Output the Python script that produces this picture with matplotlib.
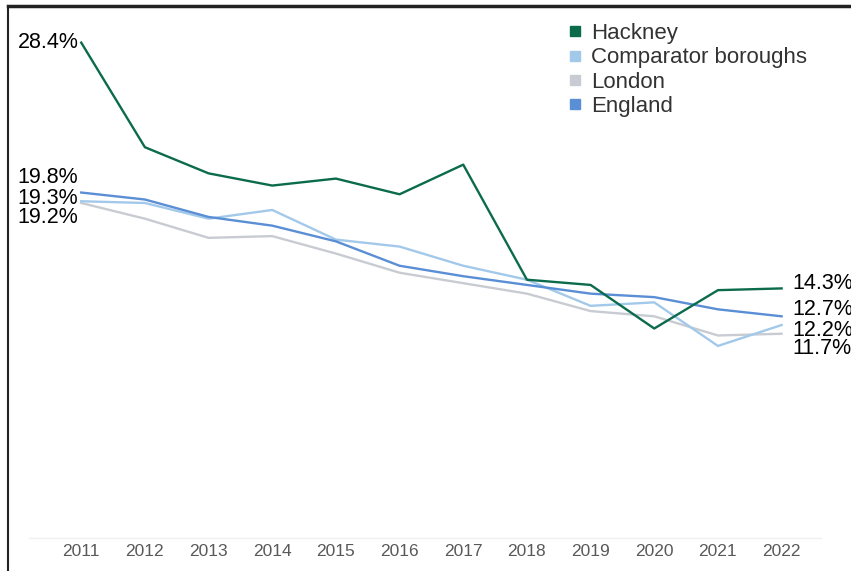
import matplotlib
matplotlib.use("Agg")
import matplotlib.pyplot as plt
from matplotlib.lines import Line2D

plt.rcParams.update({
    "font.family": ["Liberation Sans", "DejaVu Sans"],
    "font.size": 14,
})

years = [2011, 2012, 2013, 2014, 2015, 2016, 2017, 2018, 2019, 2020, 2021, 2022]
hackney = [28.4, 22.4, 20.9, 20.2, 20.6, 19.7, 21.4, 14.8, 14.5, 12.0, 14.2, 14.3]
comparator = [19.3, 19.2, 18.3, 18.8, 17.1, 16.7, 15.6, 14.8, 13.3, 13.5, 11.0, 12.2]
london = [19.2, 18.3, 17.2, 17.3, 16.3, 15.2, 14.6, 14.0, 13.0, 12.7, 11.6, 11.7]
england = [19.8, 19.4, 18.4, 17.9, 17.0, 15.6, 15.0, 14.5, 14.0, 13.8, 13.1, 12.7]

names = ["Hackney", "Comparator boroughs", "London", "England"]
series = [hackney, comparator, london, england]
colors = ["#0B6B4C", "#A3C9EA", "#C8CCD2", "#5A8ED5"]
z = [5, 3, 2, 4]

# label nudges in pixels, screen-down positive, so end labels don't collide
start_off = [0, -3, 15, -15]
end_off = [-5, 5, 15, -7]

fig = plt.figure(figsize=(8.51, 5.71), dpi=100)
# axes run to the bottom edge so the left rule reaches it; y=0 sits at ~537px
ax = fig.add_axes([8 / 851, 0, 843 / 851, (571 - 6) / 571])

for vals, c, zz in zip(series, colors, z):
    ax.plot(years, vals, color=c, lw=1.7, zorder=zz)

for vals, so, eo in zip(series, start_off, end_off):
    ax.annotate(f"{vals[0]:.1f}%", (years[0], vals[0]),
                xytext=(-2, -so * 0.72), textcoords="offset points",
                ha="right", va="center", fontsize=15.5, color="black")
    ax.annotate(f"{vals[-1]:.1f}%", (years[-1], vals[-1]),
                xytext=(8, -eo * 0.72), textcoords="offset points",
                ha="left", va="center", fontsize=15.5, color="black")

ax.set_xlim(2009.85, 2023.09)
ax.set_ylim(-1.91, 30.5)
ax.axhline(0, xmin=0.025, xmax=0.965, color="#F0F0F0", lw=1, zorder=1)

for y in years:
    ax.annotate(str(y), (y, 0), xytext=(0, -10), textcoords="offset points",
                ha="center", va="center", fontsize=12.5, color="#595959")

ax.set_xticks([])
ax.set_yticks([])
ax.spines["right"].set_visible(False)
ax.spines["bottom"].set_visible(False)
ax.spines["left"].set_color("#222222")
ax.spines["left"].set_linewidth(1.5)
ax.spines["top"].set_color("#222222")
ax.spines["top"].set_linewidth(2.5)

handles = [Line2D([0], [0], marker="s", color="w", markerfacecolor=c,
                  markeredgecolor=c, markersize=7, label=n)
           for n, c in zip(names, colors)]
leg = ax.legend(handles=handles, loc="upper left", bbox_to_anchor=(557 / 851, 1 - 12 / 571),
                bbox_transform=fig.transFigure, frameon=False, fontsize=16,
                handlelength=0.6, handletextpad=0.45, labelspacing=0.15, borderpad=0)
for t in leg.get_texts():
    t.set_color("#333333")

fig.savefig("out.png", dpi=100)
